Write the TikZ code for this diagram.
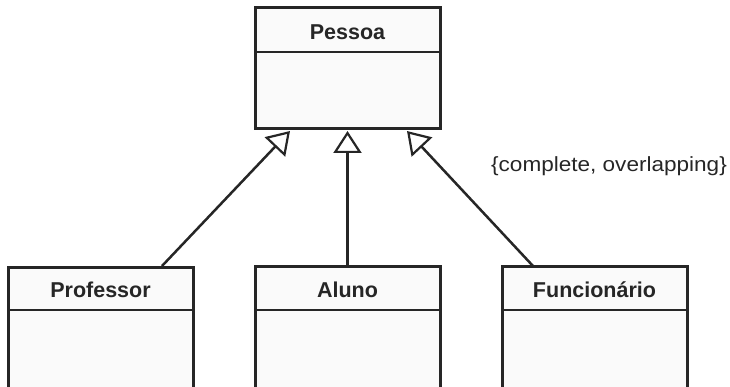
\documentclass[tikz,border=0pt]{standalone}
\usepackage{fontspec}
\setmainfont{Liberation Sans}
\usetikzlibrary{arrows.meta}
\definecolor{boxfill}{HTML}{FAFAFA}
\definecolor{ink}{HTML}{262626}
\tikzset{
  classbox/.style={draw=ink, line width=3pt, fill=boxfill, minimum width=185pt, inner sep=0pt},
  classname/.style={font=\fontsize{21.5}{23}\selectfont\bfseries, text=ink, inner sep=0pt},
  divider/.style={draw=ink, line width=1.6pt},
  gen/.style={draw=ink, line width=2.5pt, -{Triangle[open, length=22pt, width=28pt, line width=2.2pt]}},
  constraint/.style={font=\fontsize{20.5}{22}\selectfont, text=ink, inner sep=0pt, xscale=1.1, transform shape}
}
\begin{document}
\begin{tikzpicture}[x=1pt, y=-1pt]
\useasboundingbox (0,0) rectangle (730,387);
\clip (0,0) rectangle (730,387);
% Pessoa
\node[classbox, minimum height=121pt] (pessoa) at (347.5,68.5) {};
\node[classname] (pessoaname) at (347.5,32) {Pessoa};
\draw[divider] (255,52) -- (440,52);
% Professor
\node[classbox, minimum height=130pt] (professor) at (100.5,332) {};
\node[classname] (professorname) at (100.5,290) {Professor};
\draw[divider] (8,310) -- (193,310);
% Aluno
\node[classbox, minimum height=130pt] (aluno) at (347.5,331.5) {};
\node[classname] (alunoname) at (347.5,290) {Aluno};
\draw[divider] (255,310) -- (440,310);
% Funcionario
\node[classbox, minimum height=130pt] (funcionario) at (594.5,331.5) {};
\node[classname] (funcionarioname) at (594.5,290) {Funcionário};
\draw[divider] (502,310) -- (687,310);
% connector end points
\coordinate (tipL) at (290,131);
\coordinate (tipM) at (347.5,131);
\coordinate (tipR) at (407,131);
\coordinate (srcL) at (162,266);
\coordinate (srcR) at (533,266);
\draw[gen] (srcL) -- (tipL);
\draw[gen] (aluno.north) -- (tipM);
\draw[gen] (srcR) -- (tipR);
% constraint
\node[constraint] (cons) at (609,166) {\{complete, overlapping\}};
\end{tikzpicture}
\end{document}
